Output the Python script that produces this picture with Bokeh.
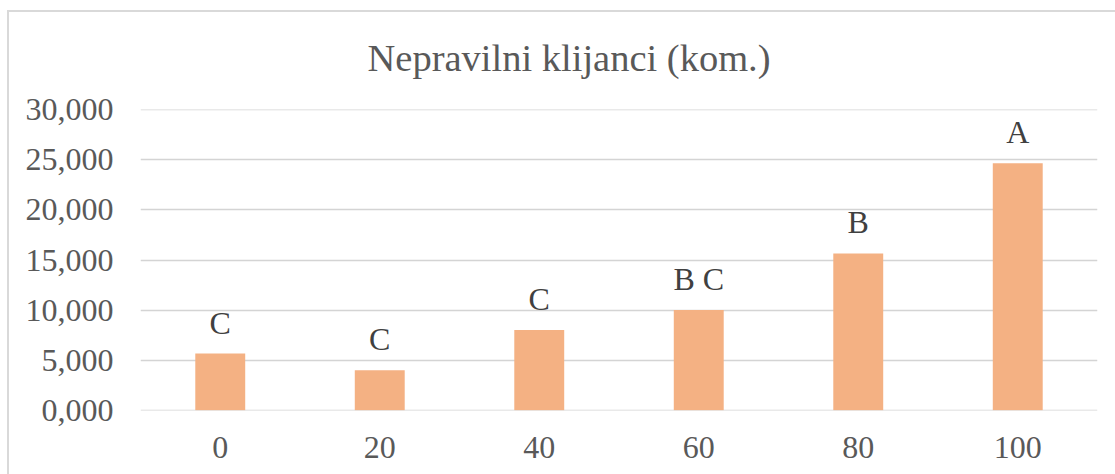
from bokeh.plotting import figure
from bokeh.models import Range1d, FixedTicker, LabelSet, ColumnDataSource
from bokeh.embed import file_html
from bokeh.resources import INLINE

# ---- data ----
categories = ["0", "20", "40", "60", "80", "100"]
values = [5.65, 4.0, 8.0, 10.0, 15.65, 24.65]
letters = ["C", "C", "C", "B C", "B", "A"]
y_ticks = [0, 5, 10, 15, 20, 25, 30]
y_tick_labels = ["0,000", "5,000", "10,000", "15,000", "20,000", "25,000", "30,000"]
title_text = "Nepravilni klijanci (kom.)"

xs = list(range(len(categories)))
src = ColumnDataSource(dict(x=xs, top=values, letter=letters))

FONT = "Liberation Serif"

p = figure(width=1115, height=474, output_backend="svg", toolbar_location=None,
           x_range=Range1d(-0.5, len(categories) - 0.5), y_range=Range1d(-0.03, 30.03),
           min_border_left=140, min_border_right=18, min_border_top=109, min_border_bottom=64,
           title=title_text)
p.outline_line_color = None
p.background_fill_color = "white"
p.border_fill_alpha = 0
p.styles = {
    "background-color": "white",
    "background-image": "linear-gradient(#d9d9d9,#d9d9d9), linear-gradient(#d9d9d9,#d9d9d9)",
    "background-size": "1108px 2px, 2px 464px",
    "background-position": "7px 10px, 7px 10px",
    "background-repeat": "no-repeat",
}

p.title.align = "left"
p.title.offset = 227
p.title.text_font = FONT
p.title.text_font_size = "38.5px"
p.title.text_font_style = "normal"
p.title.text_color = "#595959"
p.title.standoff = 61

p.vbar(x="x", top="top", width=0.313, bottom=0, source=src,
       fill_color="#F4B183", line_color=None)

# axes
p.xaxis.ticker = FixedTicker(ticks=xs)
p.xaxis.major_label_overrides = {i: c for i, c in zip(xs, categories)}
p.yaxis.ticker = FixedTicker(ticks=y_ticks)
p.yaxis.major_label_overrides = {t: l for t, l in zip(y_ticks, y_tick_labels)}
for ax in (p.xaxis[0], p.yaxis[0]):
    ax.axis_line_color = None
    ax.major_tick_line_color = None
    ax.minor_tick_line_color = None
    ax.major_tick_out = 0
    ax.major_tick_in = 0
    ax.major_label_text_font = FONT
    ax.major_label_text_font_size = "32px"
    ax.major_label_text_color = "#595959"
p.xaxis.major_label_standoff = 26
p.yaxis.major_label_standoff = 27

p.xgrid.grid_line_color = None
p.ygrid.ticker = FixedTicker(ticks=y_ticks)
p.ygrid.grid_line_color = "#d4d4d4"
p.ygrid.grid_line_width = 1.5

labels = LabelSet(x="x", y="top", text="letter", source=src, y_offset=20,
                  text_align="center", text_baseline="alphabetic",
                  text_font=FONT, text_font_size="32px", text_color="#404040")
p.add_layout(labels)

open("out.html", "w").write(file_html(p, INLINE))
